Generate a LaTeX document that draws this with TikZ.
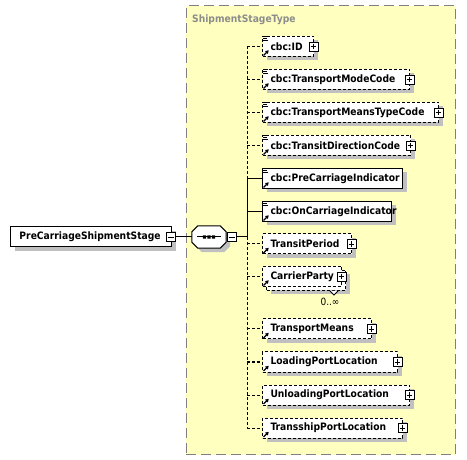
\documentclass[tikz,border=0pt]{standalone}
\usepackage{fontspec}
\setmainfont{Liberation Sans}
\newfontfamily\condf{DejaVu Sans Condensed}
\usetikzlibrary{shadows,arrows.meta,calc}
\definecolor{ybg}{RGB}{255,255,192}
\definecolor{ttl}{RGB}{140,140,140}
\definecolor{bdr}{RGB}{128,128,128}
\definecolor{shd}{RGB}{192,192,192}
\newcommand\elfont{\condf\bfseries\fontsize{10.2pt}{12pt}\selectfont}
\newcommand\lnicon[1]{\draw[line width=0.9pt] ([xshift=1pt,yshift=-0.8pt]#1.north west) -- ++(5pt,0pt) ([xshift=1pt,yshift=-2.6pt]#1.north west) -- ++(4pt,0pt) ([xshift=1pt,yshift=-4.4pt]#1.north west) -- ++(5pt,0pt);}
\newcommand\refarrow[1]{\draw[line width=1.1pt,-{Triangle[length=3.2pt,width=3.8pt]}] ([xshift=1.5pt,yshift=1.5pt]#1.south west) -- ++(5.2pt,5.2pt);}
\begin{document}
\begin{tikzpicture}[x=1pt,y=-1pt,
  el/.style={draw=black, line width=1pt, fill=white, minimum height=20pt, inner xsep=8pt, inner ysep=0pt, anchor=west, align=left, font=\elfont},
  sh/.style={drop shadow={shadow xshift=4pt, shadow yshift=-4pt, fill=shd, opacity=1}},
  opt/.style={dash pattern=on 3pt off 2pt},
  elw/.style={minimum width=#1pt, text width=\the\dimexpr#1pt-16pt\relax},
  pbox/.style={draw=black, fill=white, line width=0.8pt, minimum size=9pt, inner sep=0pt,
    path picture={\draw[line width=0.8pt] ([xshift=1.6pt]path picture bounding box.west) -- ([xshift=-1.6pt]path picture bounding box.east) ([yshift=-1.6pt]path picture bounding box.north) -- ([yshift=1.6pt]path picture bounding box.south);}},
  mbox/.style={draw=black, fill=white, line width=0.8pt, minimum size=9pt, inner sep=0pt,
    path picture={\draw[line width=0.8pt] ([xshift=1.6pt]path picture bounding box.west) -- ([xshift=-1.6pt]path picture bounding box.east);}},
  conn/.style={line width=1pt, draw=black},
]
\useasboundingbox (0,0) rectangle (467,460);
% type box
\node[draw=bdr, fill=ybg, line width=1pt, dash pattern=on 10pt off 5pt, minimum width=269.5pt, minimum height=448.5pt, anchor=north west, inner sep=0pt] (typebox) at (185.5,5.5) {};
\node[anchor=base west, font=\elfont, text=ttl, inner sep=0pt] (title) at (192,22.5) {ShipmentStageType};

% main element
\node[el,sh,minimum width=161pt,text width=143pt,inner xsep=9pt] (main) at (10,237) {PreCarriageShipmentStage};
\node[mbox] (main-m) at ([xshift=-1pt]main.east) {};

% sequence compositor
\node[minimum width=34pt, minimum height=22pt, inner sep=0pt] (seq) at (209,237) {};
\draw[line width=1pt, fill=white, sh] ([xshift=6pt]seq.north west) -- ([xshift=-6pt]seq.north east) -- ([yshift=-6pt]seq.north east) -- ([yshift=6pt]seq.south east) -- ([xshift=-6pt]seq.south east) -- ([xshift=6pt]seq.south west) -- ([yshift=6pt]seq.south west) -- ([yshift=-6pt]seq.north west) -- cycle;
\draw[line width=1pt] ([xshift=5pt]seq.west) -- ([xshift=-5pt]seq.east);
\fill ([xshift=-1.7pt,yshift=-1.7pt]seq.center) rectangle ++(3.4pt,3.4pt)
      ([xshift=-6.2pt,yshift=-1.7pt]seq.center) rectangle ++(3.4pt,3.4pt)
      ([xshift=2.8pt,yshift=-1.7pt]seq.center) rectangle ++(3.4pt,3.4pt);
\node[mbox] (seq-m) at ([xshift=5.5pt]seq.east) {};
\coordinate (spine) at (247,237);

% children
\node[el,sh,opt,elw=51] (id) at (262,46.5) {cbc:ID};
\node[el,sh,opt,elw=147] (tmc) at (262,79.5) {cbc:TransportModeCode};
\node[el,sh,opt,elw=176] (tmtc) at (262,112.5) {cbc:TransportMeansTypeCode};
\node[el,sh,opt,elw=148] (tdc) at (262,145.5) {cbc:TransitDirectionCode};
\node[el,sh,elw=140] (pci) at (262,178.5) {cbc:PreCarriageIndicator};
\node[el,sh,elw=129] (oci) at (262,211.5) {cbc:OnCarriageIndicator};
\node[el,sh,opt,elw=89] (tp) at (262,244) {TransitPeriod};
\node[el,sh,opt,minimum width=79pt] (cpb) at (266,280.5) {};
\node[el,opt,elw=79] (cpf) at (262,276.5) {CarrierParty};
\draw[line width=0.8pt, fill=white] ([xshift=-8pt]cpb.south east) -- ++(-4,4) -- ++(-4,-4);
\node[font=\condf\fontsize{10pt}{12pt}\selectfont, inner sep=0pt] (cpm) at (330,302) {0..∞};
\node[el,sh,opt,elw=109] (tm) at (262,329) {TransportMeans};
\node[el,sh,opt,elw=135] (lpl) at (262,362) {LoadingPortLocation};
\node[el,sh,opt,elw=147] (upl) at (262,395) {UnloadingPortLocation};
\node[el,sh,opt,elw=140] (tpl) at (262,428) {TransshipPortLocation};

% plus boxes
\foreach \n in {id,tmc,tmtc,tdc,tp,cpf,tm,lpl,upl,tpl}
  \node[pbox] (\n-p) at ([xshift=-0.5pt]\n.east) {};

% icons
\foreach \n in {id,tmc,tmtc,tdc,pci,oci} \lnicon{\n};
\foreach \n in {id,tmc,tmtc,tdc,pci,oci,tp,cpf,tm,lpl,upl,tpl} \refarrow{\n};

% connectors
\draw[conn] (main-m.east) -- (seq.west);
\draw[conn] (seq-m.east) -- (spine);
\draw[conn,opt] (spine |- id.west) -- (spine |- pci.west);
\draw[conn] (spine |- pci.west) -- (spine);
\draw[conn,opt] (spine) -- (spine |- tpl.west);
\foreach \n in {id,tmc,tmtc,tdc,tp,cpf,tm,lpl,upl,tpl}
  \draw[conn,opt] (spine |- \n.west) -- (\n.west);
\foreach \n in {pci,oci}
  \draw[conn] (spine |- \n.west) -- (\n.west);
\end{tikzpicture}
\end{document}
